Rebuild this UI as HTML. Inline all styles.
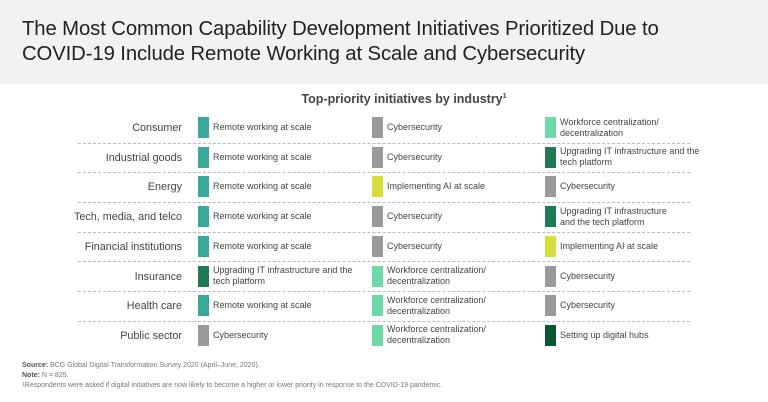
<!DOCTYPE html><html><head><style>
body{margin:0;width:768px;height:402px;background:#fff;font-family:"Liberation Sans",sans-serif;position:relative;overflow:hidden;color:#333}
.hdr{position:absolute;left:0;top:0;width:768px;height:84px;background:#f2f2f2}
.hdr div{position:absolute;left:22px;top:17px;font-size:20.3px;line-height:25px;color:#222;letter-spacing:-0.1px}
.t{position:absolute;top:92px;left:0;width:768px;text-align:center;font-weight:bold;font-size:12.5px;color:#444;padding-left:20px}
.row{position:absolute;left:0;width:768px;height:30px}
.lab{position:absolute;right:586px;top:0;height:22px;line-height:22px;font-size:10.8px;color:#444;white-space:nowrap}
.sw{position:absolute;top:0;width:11px;height:21px}
.tx{position:absolute;top:0;height:21px;display:flex;align-items:center;font-size:9px;line-height:11px;color:#444}
.ln{position:absolute;left:78px;width:612px;border-top:1px dashed #bbb}
.f{position:absolute;left:22px;font-size:7px;line-height:9px;color:#777}
.f b{color:#555}
</style></head><body>
<div class="hdr"><div>The Most Common Capability Development Initiatives Prioritized Due to<br>COVID-19 Include Remote Working at Scale and Cybersecurity</div></div>
<div class="t">Top-priority initiatives by industry<sup style="font-size:7px">1</sup></div>
<div id="c"></div>
<div class="f" style="top:361px"><b>Source:</b> BCG Global Digital Transformation Survey 2020 (April–June, 2020).</div>
<div class="f" style="top:371px"><b>Note:</b> N = 825.</div>
<div class="f" style="top:381px"><span style="font-size:5px;vertical-align:top">1</span>Respondents were asked if digital initiatives are now likely to become a higher or lower priority in response to the COVID-19 pandemic.</div>
<script>
var T='#3aa99a',G='#9a9a9a',L='#d3de3a',W='#6dd8a8',D='#1f7a55',X='#0b5533';
var R=[['Consumer',[T,'Remote working at scale'],[G,'Cybersecurity'],[W,'Workforce centralization/<br>decentralization']],
['Industrial goods',[T,'Remote working at scale'],[G,'Cybersecurity'],[D,'Upgrading IT infrastructure and the<br>tech platform']],
['Energy',[T,'Remote working at scale'],[L,'Implementing AI at scale'],[G,'Cybersecurity']],
['Tech, media, and telco',[T,'Remote working at scale'],[G,'Cybersecurity'],[D,'Upgrading IT infrastructure<br>and the tech platform']],
['Financial institutions',[T,'Remote working at scale'],[G,'Cybersecurity'],[L,'Implementing AI at scale']],
['Insurance',[D,'Upgrading IT infrastructure and the<br>tech platform'],[W,'Workforce centralization/<br>decentralization'],[G,'Cybersecurity']],
['Health care',[T,'Remote working at scale'],[W,'Workforce centralization/<br>decentralization'],[G,'Cybersecurity']],
['Public sector',[G,'Cybersecurity'],[W,'Workforce centralization/<br>decentralization'],[X,'Setting up digital hubs']]];
var xs=[198,372,545],h='';
R.forEach(function(r,i){var y=117+i*29.7;h+='<div class="row" style="top:'+y+'px"><div class="lab">'+r[0]+'</div>';
for(var j=0;j<3;j++){h+='<div class="sw" style="left:'+xs[j]+'px;background:'+r[j+1][0]+'"></div><div class="tx" style="left:'+(xs[j]+15)+'px">'+r[j+1][1]+'</div>';}
h+='</div>';if(i<7)h+='<div class="ln" style="top:'+(y+25.5)+'px"></div>';});
document.getElementById('c').innerHTML=h;
</script></body></html>
